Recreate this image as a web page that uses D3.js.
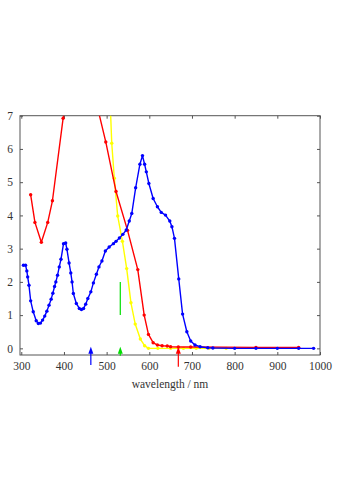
<!DOCTYPE html>
<html>
<head>
<meta charset="utf-8">
<script src="https://cdn.jsdelivr.net/npm/d3@7/dist/d3.min.js"></script>
<style>
  html, body { margin: 0; padding: 0; background: #fff; }
  svg { display: block; }
  text { font-family: "Liberation Serif", "DejaVu Serif", serif; fill: #333; }
</style>
</head>
<body>
<svg id="chart" width="337" height="481"></svg>
<script>
// Absorption spectra (wavelength in nm, absorbance)
const blueNm  = [305,310,313,315,318,322,328,335,340,345,350,355,360,365,370,374,378,381,385,389,393,399,404,407,412,416,419,422,429,436,441,446,451,456,463,469,476,482,489,497,506,516,522,530,538,546,553,559,568,578,584,589,593,599,609,619,628,638,648,653,659,669,678,688,697,707,719,737,749,800,850,900,950,985];
const blueVal = [2.5,2.5,2.33,2.15,1.9,1.43,1.1,0.83,0.75,0.76,0.85,0.97,1.12,1.3,1.48,1.66,1.86,2.0,2.2,2.45,2.68,3.15,3.17,2.98,2.57,2.27,2.0,1.65,1.35,1.2,1.17,1.2,1.33,1.5,1.7,1.97,2.23,2.45,2.63,2.93,3.05,3.15,3.22,3.32,3.43,3.56,3.83,4.06,4.83,5.54,5.8,5.54,5.31,4.96,4.51,4.26,4.09,4.01,3.83,3.66,3.31,2.09,1.03,0.5,0.22,0.1,0.05,0.02,0.01,0,0,0,0,0];

const redNm  = [322,332,347,362,373,398,423,448,473,498,522,549,573,588,598,609,619,630,642,650,668,697,850,950];
const redVal = [4.62,3.79,3.19,3.79,4.44,6.92,9.2,9.0,7.55,6.21,4.72,3.55,2.37,1.0,0.42,0.17,0.1,0.08,0.07,0.05,0.04,0.04,0.03,0.03];

const yellowNm  = [505,512,518,526,537,547,557,567,579,589,598,620,650,680,710,740,780];
const yellowVal = [8.5,6.17,5.12,3.98,3.22,2.4,1.37,0.73,0.28,0.08,0,0,0,0,0,0,0];

// Excitation wavelengths marked under the axis
const arrowNm    = [463, 532, 668];
const arrowColor = ["#0000ff", "#00dd00", "#ff0000"];
const arrowFrom  = [-0.5, -0.22, -0.55];
const arrowTo    = [0.05, 0.05, 0.05];

// Vertical green bar
const barNm  = 532;
const barVal = [1, 2];

const xTicks = [300,400,500,600,700,800,900,1000];
const yTicks = [0,1,2,3,4,5,6,7];

const svg = d3.select("#chart");
const mLeft = 20, mRight = 320, mTop = 115.7, mBottom = 355;

const x = d3.scaleLinear().domain([297, 1000]).range([mLeft, mRight]);
const y = d3.scaleLinear().domain([-0.2, 7]).range([mBottom, mTop]);

svg.append("defs").append("clipPath").attr("id", "plot")
  .append("rect").attr("x", mLeft).attr("y", mTop)
  .attr("width", mRight - mLeft).attr("height", mBottom - mTop);

const frameColor = "#555";

// Axes with inward ticks on all four sides
const axB = d3.axisBottom(x).tickValues(xTicks).tickFormat(d3.format("d"))
  .tickSizeInner(-3).tickSizeOuter(0).tickPadding(7);
const axT = d3.axisTop(x).tickValues(xTicks).tickSizeInner(-3).tickSizeOuter(0).tickFormat("");
const axL = d3.axisLeft(y).tickValues(yTicks).tickFormat(d3.format("d"))
  .tickSizeInner(-3).tickSizeOuter(0).tickPadding(7);
const axR = d3.axisRight(y).tickValues(yTicks).tickSizeInner(-3).tickSizeOuter(0).tickFormat("");

function styleAxis(g) {
  g.attr("font-family", null);
  g.select(".domain").remove();
  g.selectAll(".tick line").attr("stroke", frameColor);
  g.selectAll(".tick text")
    .style("font-family", "'Liberation Serif', serif")
    .style("font-size", "11.5px").attr("fill", "#333");
}
svg.append("g").attr("transform", `translate(0,${mBottom})`).call(axB).call(styleAxis);
svg.append("g").attr("transform", `translate(0,${mTop})`).call(axT).call(styleAxis);
svg.append("g").attr("transform", `translate(${mLeft},0)`).call(axL).call(styleAxis);
svg.append("g").attr("transform", `translate(${mRight},0)`).call(axR).call(styleAxis);

svg.append("rect").attr("x", mLeft).attr("y", mTop)
  .attr("width", mRight - mLeft).attr("height", mBottom - mTop)
  .attr("fill", "none").attr("stroke", frameColor).attr("stroke-width", 1);

// Axis title
svg.append("text").attr("x", 170).attr("y", 388)
  .attr("text-anchor", "middle")
  .style("font-family", "'Liberation Serif', serif")
  .style("font-size", "11.5px")
  .text("wavelength / nm");

const plot = svg.append("g").attr("clip-path", "url(#plot)");

function series(nm, val, color) {
  const pts = nm.map((d, i) => [d, val[i]]);
  const line = d3.line().x(d => x(d[0])).y(d => y(d[1]));
  plot.append("path").datum(pts).attr("d", line)
    .attr("fill", "none").attr("stroke", color).attr("stroke-width", 1.4)
    .attr("stroke-linejoin", "round");
  plot.append("g").selectAll("circle").data(pts).join("circle")
    .attr("cx", d => x(d[0])).attr("cy", d => y(d[1])).attr("r", 1.7)
    .attr("fill", color);
}

series(yellowNm, yellowVal, "#ffff00");
series(redNm, redVal, "#ff0000");
series(blueNm, blueVal, "#0000ff");

// Green bar
plot.append("line")
  .attr("x1", x(barNm)).attr("x2", x(barNm))
  .attr("y1", y(barVal[0])).attr("y2", y(barVal[1]))
  .attr("stroke", "#00dd00").attr("stroke-width", 1.2);

// Arrows
arrowNm.forEach((nm, i) => {
  const ax = x(nm), y0 = y(arrowFrom[i]), y1 = y(arrowTo[i]);
  svg.append("line").attr("x1", ax).attr("x2", ax).attr("y1", y0).attr("y2", y1 + 5)
    .attr("stroke", arrowColor[i]).attr("stroke-width", 1.2);
  svg.append("path")
    .attr("d", `M${ax},${y1} L${ax - 2.5},${y1 + 7} L${ax + 2.5},${y1 + 7} Z`)
    .attr("fill", arrowColor[i]);
});
</script>
</body>
</html>
